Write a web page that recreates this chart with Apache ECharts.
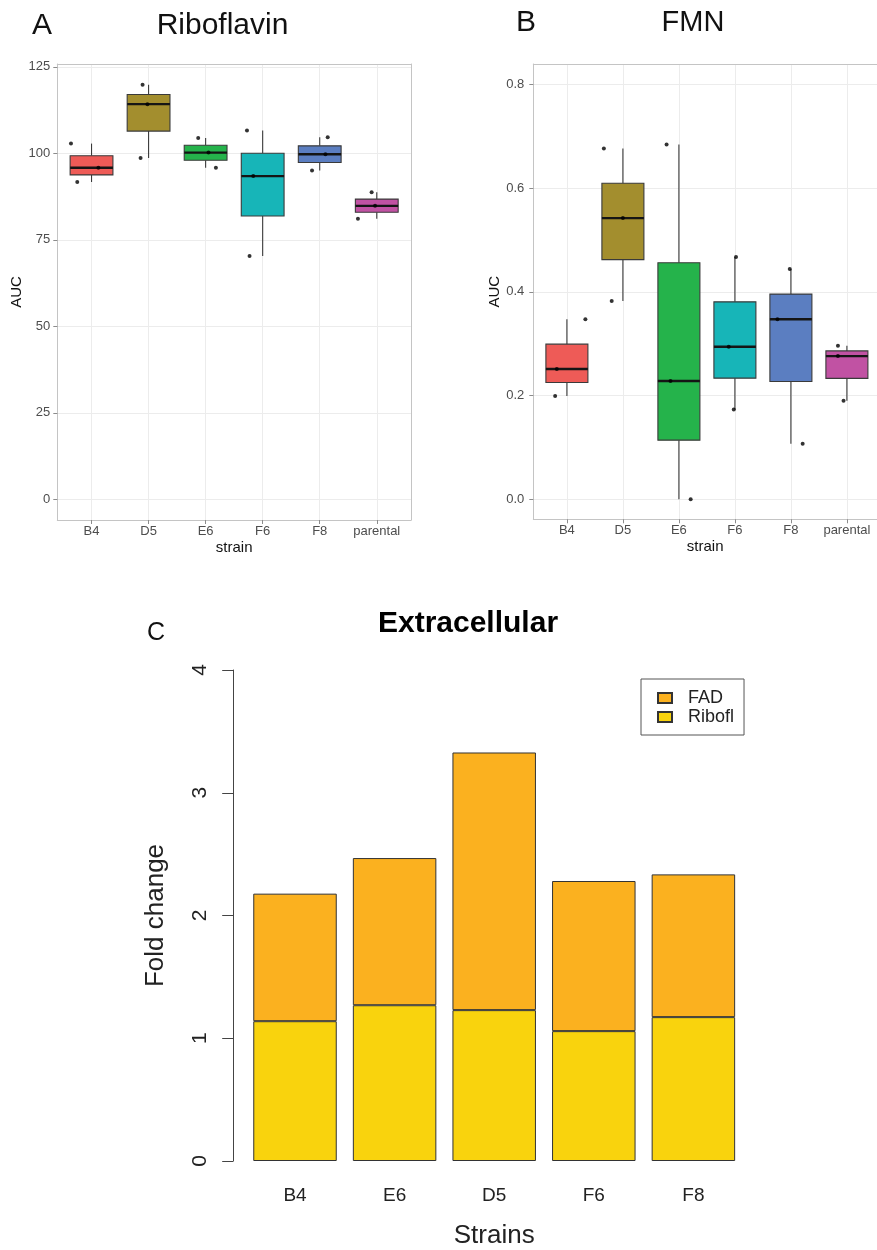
<!DOCTYPE html>
<html>
<head>
<meta charset="utf-8">
<script src="https://cdn.jsdelivr.net/npm/echarts@6/dist/echarts.min.js"></script>
<style>
  html, body { margin: 0; padding: 0; background: #fff; }
  #chart { width: 877px; height: 1250px; }
</style>
</head>
<body>
<div id="chart"></div>
<script>
// ---- data -------------------------------------------------------------
const strains = ['B4', 'D5', 'E6', 'F6', 'F8', 'parental'];
const strainPos = [0, 1, 2, 3, 4, 5];

// Riboflavin AUC, three replicates per strain
const riboflavinAUC = [
  [102.8, 91.7, 95.8],
  [119.8, 114.2, 98.6],
  [104.4, 95.8, 100.2],
  [106.6, 93.4, 70.3],
  [104.6, 99.7, 95.0],
  [88.7, 84.8, 81.1]
];
// horizontal jitter of the replicate dots (category units)
const riboflavinJitter = [
  [-0.36, -0.25, 0.12],
  [-0.105, -0.02, -0.14],
  [-0.13, 0.18, 0.05],
  [-0.275, -0.165, -0.23],
  [0.14, 0.10, -0.135],
  [-0.09, -0.03, -0.33]
];
const riboflavinTicks = [0, 25, 50, 75, 100, 125];

// FMN AUC, three replicates per strain
const fmnAUC = [
  [0.199, 0.251, 0.347],
  [0.676, 0.382, 0.542],
  [0.684, 0.228, 0.0],
  [0.467, 0.294, 0.173],
  [0.444, 0.347, 0.107],
  [0.296, 0.276, 0.190]
];
const fmnJitter = [
  [-0.21, -0.18, 0.33],
  [-0.34, -0.2, 0.0],
  [-0.22, -0.15, 0.21],
  [0.02, -0.11, -0.02],
  [-0.02, -0.24, 0.21],
  [-0.16, -0.16, -0.06]
];
const fmnTicks = [0, 0.2, 0.4, 0.6, 0.8];

// Extracellular fold change (stacked)
const fcStrains = ['B4', 'E6', 'D5', 'F6', 'F8'];
const riboflFC = [1.139, 1.269, 1.229, 1.058, 1.172];
const fadFC = [1.039, 1.199, 2.099, 1.223, 1.163];
const fcTicks = [0, 1, 2, 3, 4];

// ---- styling ------------------------------------------------------------
const FONT = '"Liberation Sans", Arial, Helvetica, sans-serif';
const boxColors = ['#EE5B57', '#A38E2E', '#25B34B', '#17B5B8', '#5B7EC1', '#C152A3'];
const BOX_WIDTH = 0.75;
const PANEL_BORDER = '#c4c4c4';

// ---- helpers -----------------------------------------------------------
function quantile(sorted, p) {
  const h = (sorted.length - 1) * p;
  const lo = Math.floor(h);
  const hi = Math.min(lo + 1, sorted.length - 1);
  return sorted[lo] + (h - lo) * (sorted[hi] - sorted[lo]);
}
function boxStats(groups) {
  return groups.map(function (vals, i) {
    const s = vals.slice().sort(function (a, b) { return a - b; });
    return [strainPos[i], s[0], quantile(s, 0.25), quantile(s, 0.5), quantile(s, 0.75), s[s.length - 1]];
  });
}
function jitterPoints(groups, jitter) {
  const pts = [];
  groups.forEach(function (vals, i) {
    vals.forEach(function (v, j) { pts.push([strainPos[i] + jitter[i][j], v]); });
  });
  return pts;
}
function renderBox(params, api) {
  const x = api.value(0);
  const pMin = api.coord([x, api.value(1)]);
  const pQ1 = api.coord([x, api.value(2)]);
  const pMed = api.coord([x, api.value(3)]);
  const pQ3 = api.coord([x, api.value(4)]);
  const pMax = api.coord([x, api.value(5)]);
  const half = api.size([BOX_WIDTH, 0])[0] / 2;
  const cx = pMed[0];
  const whisker = { stroke: '#3a3a3a', lineWidth: 1.1 };
  return {
    type: 'group',
    children: [
      { type: 'line', shape: { x1: cx, y1: pQ3[1], x2: cx, y2: pMax[1] }, style: whisker },
      { type: 'line', shape: { x1: cx, y1: pQ1[1], x2: cx, y2: pMin[1] }, style: whisker },
      { type: 'rect', shape: { x: cx - half, y: pQ3[1], width: 2 * half, height: pQ1[1] - pQ3[1] },
        style: { fill: boxColors[params.dataIndex], stroke: '#3a3a3a', lineWidth: 1.1 } },
      { type: 'line', shape: { x1: cx - half, y1: pMed[1], x2: cx + half, y2: pMed[1] },
        style: { stroke: '#151515', lineWidth: 2.4 } }
    ]
  };
}

const frameLine = { show: true, onZero: false, lineStyle: { color: PANEL_BORDER, width: 1 } };

function ggXAxis(gridIndex, max) {
  return {
    type: 'value', gridIndex: gridIndex, min: -0.6, max: max,
    axisLine: frameLine,
    axisTick: { show: true, customValues: strainPos, length: 4, lineStyle: { color: '#8c8c8c' } },
    axisLabel: { customValues: strainPos, formatter: function (v) { return strains[Math.round(v)]; },
      color: '#4d4d4d', fontSize: 13, fontFamily: FONT, margin: 5 },
    splitLine: { show: true, lineStyle: { color: '#ececec', width: 1 } },
    name: 'strain', nameLocation: 'middle', nameGap: 20,
    nameTextStyle: { fontSize: 15, color: '#111', fontFamily: FONT }
  };
}
// top edge of a panel frame
function frameTop(gridIndex, max) {
  return {
    type: 'value', gridIndex: gridIndex, position: 'top', min: -0.6, max: max,
    axisLine: frameLine,
    axisTick: { show: false }, axisLabel: { show: false }, splitLine: { show: false }
  };
}
// right edge of a panel frame
function frameRight(gridIndex, min, max) {
  return {
    type: 'value', gridIndex: gridIndex, position: 'right', min: min, max: max,
    axisLine: frameLine,
    axisTick: { show: false }, axisLabel: { show: false }, splitLine: { show: false }
  };
}
function ggYAxis(gridIndex, min, max, ticks, fmt, gap, labelMargin) {
  return {
    type: 'value', gridIndex: gridIndex, min: min, max: max,
    axisLine: frameLine,
    axisTick: { show: true, customValues: ticks, length: 4, lineStyle: { color: '#8c8c8c' } },
    axisLabel: { customValues: ticks, formatter: fmt, color: '#4d4d4d', fontSize: 13,
      fontFamily: FONT, margin: labelMargin },
    splitLine: { show: true, lineStyle: { color: '#ececec', width: 1 } },
    name: 'AUC', nameLocation: 'middle', nameRotate: 90, nameGap: gap,
    nameTextStyle: { fontSize: 15, color: '#111', fontFamily: FONT }
  };
}

const titleStyle = { fontFamily: FONT, fontWeight: 'normal', color: '#111' };

// panel B runs off the right edge of the page: its axis keeps the same
// category spacing as a full panel, so only part of the range is shown
const FMN_X_MAX = 5.5375;

const option = {
  backgroundColor: '#ffffff',
  animation: false,
  title: [
    { text: 'A', left: 32, top: 11, padding: 0, textStyle: Object.assign({ fontSize: 30 }, titleStyle) },
    { text: 'Riboflavin', left: 222.5, top: 11, padding: 0, textAlign: 'center',
      textStyle: Object.assign({ fontSize: 30 }, titleStyle) },
    { text: 'B', left: 516, top: 8, padding: 0, textStyle: Object.assign({ fontSize: 30 }, titleStyle) },
    { text: 'FMN', left: 693, top: 8, padding: 0, textAlign: 'center',
      textStyle: Object.assign({ fontSize: 29 }, titleStyle) },
    { text: 'C', left: 147, top: 621, padding: 0, textStyle: Object.assign({ fontSize: 25 }, titleStyle) },
    { text: 'Extracellular', left: 468, top: 609, padding: 0, textAlign: 'center',
      textStyle: { fontFamily: FONT, fontWeight: 'bold', fontSize: 30, color: '#000' } }
  ],
  legend: {
    data: [{ name: 'FAD', icon: 'rect' }, { name: 'Ribofl', icon: 'rect' }],
    orient: 'vertical',
    left: 641, top: 679,
    padding: [10, 10, 9, 16],
    itemWidth: 14, itemHeight: 10, itemGap: 1,
    backgroundColor: '#fff',
    borderColor: '#555', borderWidth: 1, borderRadius: 0,
    textStyle: { fontSize: 18, fontFamily: FONT, color: '#222', padding: [0, 0, 0, 11], lineHeight: 18 },
    selectedMode: false
  },
  grid: [
    { left: 57.3, top: 64, width: 353.7, height: 456, show: true, borderWidth: 0, backgroundColor: '#fff' },
    { left: 533.3, top: 64, width: 343.7, height: 455.3, show: true, borderWidth: 0, backgroundColor: '#fff' },
    { left: 245.2, top: 670, width: 498, height: 492.7 }
  ],
  xAxis: [
    ggXAxis(0, 5.6),
    ggXAxis(1, FMN_X_MAX),
    {
      type: 'category', gridIndex: 2, data: fcStrains,
      axisLine: { show: false }, axisTick: { show: false },
      axisLabel: { fontSize: 19, color: '#222', fontFamily: FONT, margin: 25 },
      name: 'Strains', nameLocation: 'middle', nameGap: 62,
      nameTextStyle: { fontSize: 26, color: '#222', fontFamily: FONT }
    },
    frameTop(0, 5.6),
    frameTop(1, FMN_X_MAX)
  ],
  yAxis: [
    ggYAxis(0, -5.99, 125.8, riboflavinTicks, function (v) { return String(v); }, 32, 7),
    ggYAxis(1, -0.0386, 0.839, fmnTicks, function (v) { return v.toFixed(1); }, 28, 9),
    {
      type: 'value', gridIndex: 2, min: 0, max: 4, interval: 1, offset: 12,
      axisLine: { show: true, onZero: false, lineStyle: { color: '#444', width: 1 } },
      axisTick: { show: true, length: 11, lineStyle: { color: '#444', width: 1 } },
      axisLabel: { rotate: 90, fontSize: 21, color: '#222', fontFamily: FONT, margin: 22,
        customValues: fcTicks },
      splitLine: { show: false },
      name: 'Fold change', nameLocation: 'middle', nameRotate: 90, nameGap: 64,
      nameTextStyle: { fontSize: 26, color: '#222', fontFamily: FONT }
    },
    frameRight(0, -5.99, 125.8)
  ],
  series: [
    {
      type: 'custom', name: 'Riboflavin box', xAxisIndex: 0, yAxisIndex: 0,
      renderItem: renderBox, data: boxStats(riboflavinAUC),
      encode: { x: 0, y: [1, 2, 3, 4, 5] }, z: 2
    },
    {
      type: 'scatter', name: 'Riboflavin replicates', xAxisIndex: 0, yAxisIndex: 0,
      data: jitterPoints(riboflavinAUC, riboflavinJitter),
      symbolSize: 4, itemStyle: { color: '#000' }, z: 3, silent: true
    },
    {
      type: 'custom', name: 'FMN box', xAxisIndex: 1, yAxisIndex: 1,
      renderItem: renderBox, data: boxStats(fmnAUC),
      encode: { x: 0, y: [1, 2, 3, 4, 5] }, z: 2
    },
    {
      type: 'scatter', name: 'FMN replicates', xAxisIndex: 1, yAxisIndex: 1,
      data: jitterPoints(fmnAUC, fmnJitter),
      symbolSize: 4, itemStyle: { color: '#000' }, z: 3, silent: true
    },
    {
      type: 'bar', name: 'Ribofl', xAxisIndex: 2, yAxisIndex: 2, stack: 'fc',
      data: riboflFC, barWidth: 83.5,
      itemStyle: { color: '#F9D30D', borderColor: '#333', borderWidth: 1 }
    },
    {
      type: 'bar', name: 'FAD', xAxisIndex: 2, yAxisIndex: 2, stack: 'fc',
      data: fadFC, barWidth: 83.5,
      itemStyle: { color: '#FBB11F', borderColor: '#333', borderWidth: 1 }
    }
  ]
};

const chart = echarts.init(document.getElementById('chart'), null, { renderer: 'canvas' });
chart.setOption(option);
</script>
</body>
</html>
